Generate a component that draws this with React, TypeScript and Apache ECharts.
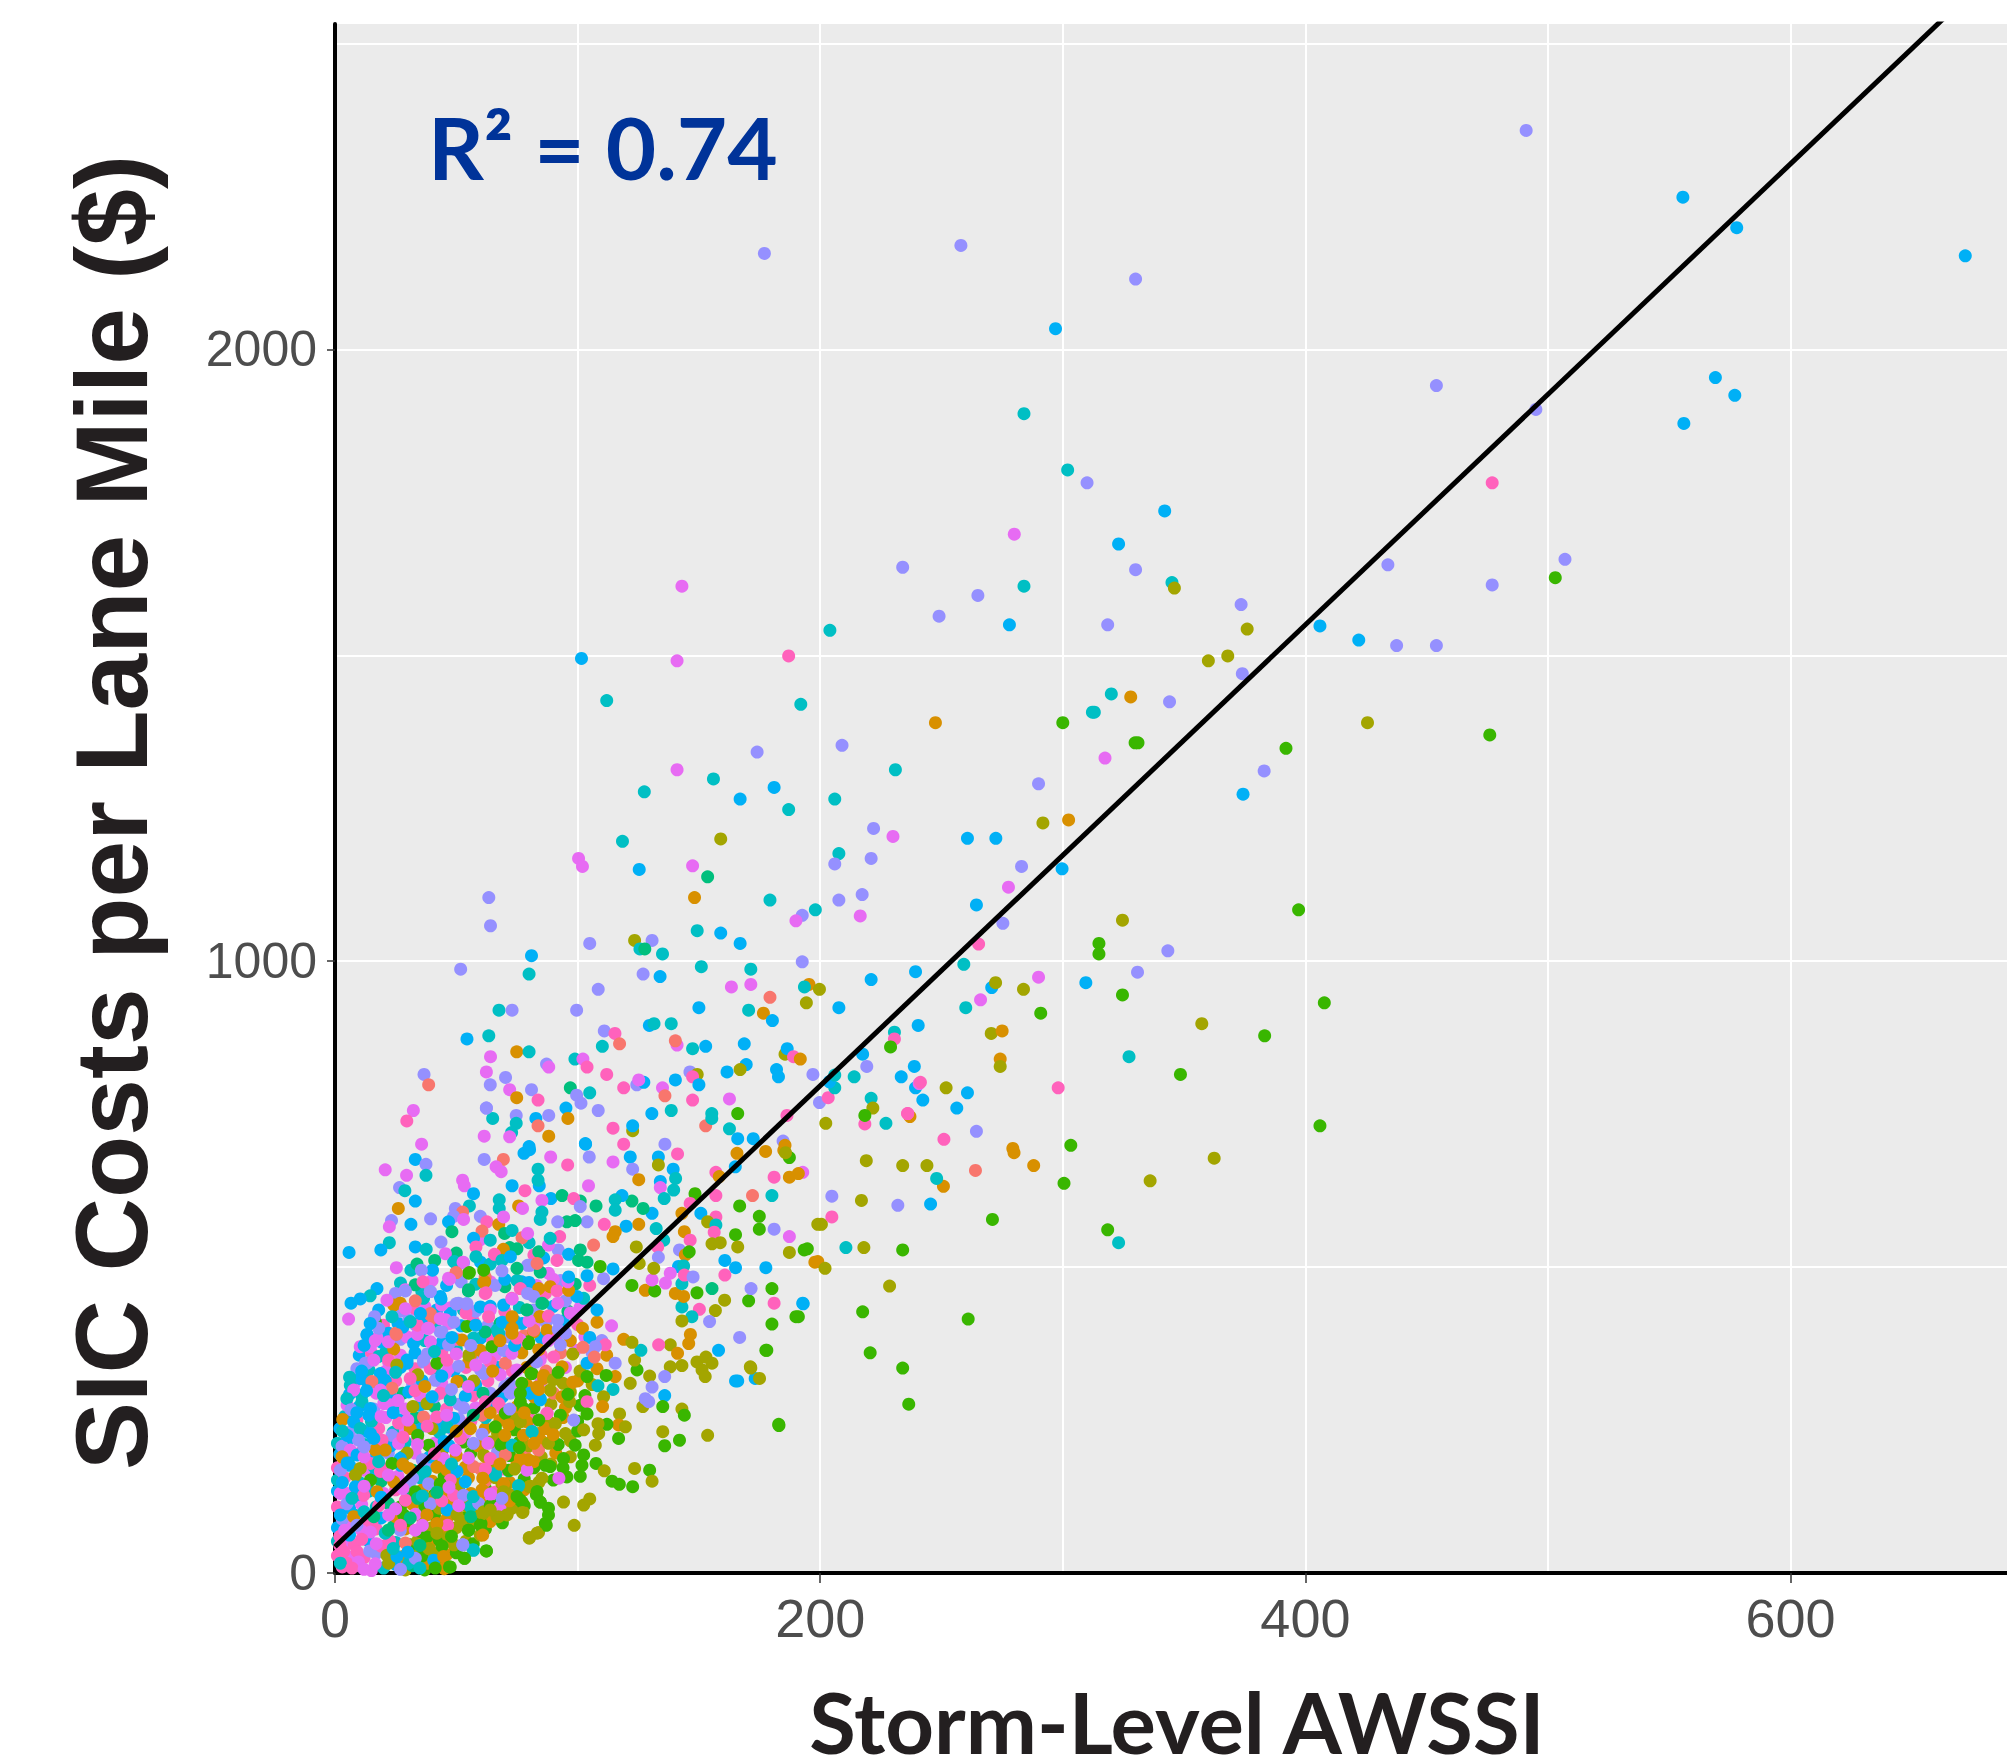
import React, { useEffect, useRef } from "react";
import * as echarts from "echarts";

// Colour groups of the storms (index used as third column of each row)
const groupColors = ["#F8766D", "#D89000", "#A3A500", "#39B600", "#00BF7D", "#00BFC4", "#00B0F6", "#9590FF", "#E76BF3", "#FF62BC"];

const xTicks = [0, 200, 400, 600];
const yTicks = [0, 1000, 2000];
const fitLine = [[0, 43], [675, 2586]];

// rows: [AWSSI, cost, group]
const fillStorms = [
[3,10,9],[10,12,9],[15,4,8],[20,8,5],[25,14,6],[29,5,2],[32,12,4],[37,5,3],[38,16,1],[43,15,2],[45,7,1],
[1,28,9],[6,26,8],[12,25,9],[17,32,7],[23,30,4],[28,27,1],[33,33,2],[36,28,3],[41,32,2],[46,30,1],[50,33,3],
[1,52,5],[5,48,8],[8,46,9],[14,52,6],[19,44,9],[25,50,5],[31,46,3],[34,52,2],[39,48,1],[43,54,3],[49,46,2],[54,52,2],[57,48,3],
[1,74,6],[6,78,8],[11,70,8],[17,72,9],[24,76,4],[29,72,1],[35,68,3],[40,74,2],[45,68,1],[50,74,2],[56,80,2],[62,72,3],
[3,88,7],[8,95,5],[13,88,9],[19,90,6],[25,92,1],[30,86,3],[36,90,2],[41,94,3],[46,88,1],[53,90,3],[58,94,2],[64,84,1],[69,82,3],
[1,108,9],[6,106,6],[11,112,8],[17,108,5],[22,114,4],[27,108,3],[32,112,1],[37,108,3],[43,106,2],[48,112,1],[54,110,2],[62,114,1],[67,112,3],[73,106,2],[78,110,3],
[1,134,6],[5,130,8],[9,128,6],[14,134,5],[20,130,8],[25,136,9],[30,130,4],[36,136,1],[41,128,3],[46,132,1],[51,136,2],[56,130,1],[62,138,3],[66,132,9],[72,128,2],[78,136,1],[83,128,3],
[1,152,5],[4,156,9],[10,148,5],[15,156,6],[19,150,4],[26,158,8],[31,150,7],[35,156,5],[40,150,1],[45,158,3],[50,148,2],[55,156,1],[62,150,0],[66,156,2],[72,148,1],[78,154,3],[84,148,2],[90,152,3],
[1,172,9],[6,176,6],[12,168,8],[16,174,5],[21,170,9],[27,176,6],[32,168,4],[38,174,7],[43,180,2],[48,172,3],[55,176,1],[60,170,0],[65,176,2],[69,170,9],[75,178,1],[82,172,3],[89,178,2],[94,172,3],
[2,194,6],[6,190,5],[11,198,9],[17,192,6],[22,196,7],[28,190,5],[33,196,8],[39,190,6],[44,198,2],[50,192,1],[56,196,3],[62,190,1],[67,198,7],[72,192,3],[78,196,0],[85,190,2],[91,196,1],[97,190,2],
[1,212,5],[5,216,6],[12,210,5],[17,216,8],[23,208,6],[29,214,5],[34,220,9],[41,212,8],[47,208,6],[53,214,3],[59,208,1],[64,214,2],[70,208,9],[76,214,3],[80,208,2],[85,216,1],[92,210,3],[97,216,2],
[2,236,6],[6,230,7],[12,232,6],[18,236,9],[24,230,5],[29,234,8],[35,238,6],[43,230,5],[48,236,7],[54,230,8],[62,236,1],[67,228,2],[74,234,3],[84,228,1],[89,234,9],[95,228,2],[100,232,3],
[4,256,5],[9,250,9],[15,248,5],[21,254,8],[27,250,6],[33,254,4],[39,248,8],[44,246,6],[51,252,7],[56,248,9],[62,254,5],[68,250,1],[74,256,2],[81,250,9],[88,248,2],[94,254,1],[100,248,3],
[5,274,8],[10,272,6],[16,268,7],[24,272,5],[29,268,8],[35,274,6],[41,272,4],[46,268,9],[51,276,7],[58,270,8],[64,274,6],[69,268,9],[75,272,1],[82,270,3],[89,276,2],[95,270,1],[101,274,3],
[6,292,6],[11,290,5],[17,294,8],[23,288,6],[28,294,4],[35,290,8],[41,288,7],[47,294,5],[57,290,9],[64,294,7],[69,288,6],[75,296,8],[82,288,1],[90,294,0],[97,296,2],[103,290,3],
[8,310,8],[13,314,6],[18,310,5],[25,314,9],[32,308,7],[36,314,6],[44,310,8],[52,314,4],[58,308,6],[63,314,9],[72,310,7],[79,308,1],[85,314,8],[94,310,2],[100,314,1],[106,308,2],
[9,334,7],[14,332,5],[21,330,8],[27,336,6],[33,334,9],[41,332,5],[49,330,6],[54,336,9],[60,332,7],[67,336,6],[73,330,9],[79,336,1],[87,330,0],[95,336,8],[101,330,2],[108,334,1],
[10,356,6],[15,360,9],[21,362,5],[27,356,8],[33,360,6],[38,358,7],[44,362,9],[50,366,5],[58,360,7],[66,356,8],[71,362,6],[77,360,1],[85,356,9],[93,360,0],[99,364,8],[106,360,7],[112,356,1],
[19,378,6],[27,382,7],[33,384,8],[37,380,5],[44,376,6],[50,382,9],[55,378,8],[60,384,6],[65,380,9],[71,386,7],[78,388,0],[85,384,6],[91,386,9],[97,380,1],[103,386,8],[110,380,7],
[20,405,9],[26,408,6],[33,406,7],[41,404,5],[47,408,8],[52,404,6],[57,412,9],[63,404,7],[68,408,4],[74,412,6],[82,404,8],[87,410,7],[94,412,6],[100,406,9],[108,410,1],[114,404,8],
[18,430,6],[27,428,7],[33,432,9],[37,436,8],[42,430,6],[48,434,8],[53,430,5],[58,428,7],[64,436,6],[70,428,9],[76,434,5],[82,430,7],[90,436,6],[96,428,4],[101,434,8],[108,430,6],
[27,474,5],[40,478,8],[46,470,6],[52,476,7],[58,472,5],[64,476,8],[70,468,4],[77,476,6],[83,470,8],[93,478,7],[99,472,4],[105,470,9],
[60,508,6],[64,505,5],[72,532,4],[82,520,9],[86,515,6],[92,528,7],[60,545,8],[80,540,5],[84,525,4],
];

const coreStorms = [
[13.2,343,7],[22.1,345,8],[29.7,343,6],[36.5,345,7],[18.7,326,6],[34.1,324,2],[39.3,334,9],[45.5,326,8],[41.3,315,7],[50.3,313,1],[57.2,314,2],[46.8,334,8],[55.1,345,1],[61.3,326,7],[70.2,343,0],[68.1,324,8],[81.2,326,3],
[10.4,318,6],[20.7,315,6],[15.2,313,0],[6.3,307,5],[7.7,299,8],[30.4,296,6],[23.5,302,0],[18.7,299,8],[4.9,285,5],[43.4,294,9],[53.7,289,6],[61,294,4],[47.5,283,5],[37.9,277,2],[22.8,275,8],[20.1,277,8],[11.1,280,5],[32.1,272,2],[6.6,267,7],[14.6,269,6],[72.3,294,7],[80.2,294,6],[67.4,277,9],[76.4,280,3],[84.6,285,6],[86,318,1],
[3.2,251,1],[13.9,258,6],[7.7,247,6],[26.2,245,9],[36.5,255,0],[42,255,9],[48.9,253,6],[70.2,261,3],[60.6,258,0],[66.1,239,3],[71.6,242,1],[79.1,247,1],[87.4,261,8],[81.2,231,6],[86.7,236,1],[10.4,236,5],[14.6,228,6],[40,236,2],[46.2,239,5],[31,236,1],[23.5,225,7],[34.1,225,3],[55.8,236,1],[60.6,227,7],[77.7,225,1],
[2.9,207,7],[9.7,217,7],[19.4,217,9],[26.2,212,8],[38.6,209,3],[51.7,220,9],[73,209,5],[68.4,209,3],[49.6,201,8],[29.7,196,2],[6.3,201,8],[9.1,193,6],[20.7,201,1],[16.6,201,1],[61.3,193,2],[83.9,201,0],[70.2,193,0],[64,187,9],[77.1,185,1],[81.9,182,1],[44.8,187,8],[26.9,187,6],[2.9,190,1],[14.6,179,9],[23.5,179,3],
[2.2,168,7],[10.4,171,2],[86.7,176,3],[79.1,168,8],[71.6,167,4],[53.7,173,1],[57.1,174,0],[42,173,1],[46.2,168,1],[18.7,166,9],[66.1,163,5],[50.3,166,6],[8.4,160,2],[30.4,171,1],[37.2,166,5],
[14.6,152,3],[47.5,152,9],[53.7,149,6],[61.3,155,1],[60.6,136,1],[68.8,146,2],[24.2,149,1],[38.6,146,7],[43.4,146,3],[8.4,141,6],[75.7,142,5],[80.5,142,2],[85.3,155,2],[83.2,133,3],[11.8,127,9],[2.2,130,8],[17.3,133,1],[33.1,133,3],[48.9,127,9],[53,127,7],[69.5,133,2],[64,127,8],
[55.8,108,5],[29,119,9],[34.1,122,4],[40.9,124,2],[39.3,113,7],[4.9,113,7],[2.2,95,6],[7.7,92,1],[22.1,95,8],[33.1,96,8],[76.4,119,3],[46.2,103,6],[59.2,114,7],[84.6,116,3],[77.5,100,2],[70.9,97,2],[66.8,92,2],[61.3,100,2],[28.3,95,3],[37.9,95,1],[50.3,95,2],
[15.2,81,9],[14.6,67,8],[26.9,70,7],[33.1,70,8],[46.4,78,9],[42,81,1],[55.1,70,3],[59.9,62,2],[60.2,81,3],[86.7,81,3],[80.1,58,2],[83.9,66,2],
[22.5,53,9],[29,49,0],[20.7,65,5],[37.9,59,3],[46.8,59,2],[52.7,46,7],[56.9,38,5],[62.4,36,3],[53.4,24,3],[44.8,27,1],[44.1,44,3],[38.6,40,2],[3.6,35,9],[9.1,35,9],[14.3,36,7],[4.9,16,9],[9.7,18,8],[16.6,15,8],[21.4,29,2],[22.1,16,2],[25.5,27,6],[30.4,16,5],[33.1,24,7],[40.7,21,6],[47.5,10,3],[41.3,8,3],[2.2,16,5],[7,8,9],[12,6,8],[27,6,7],[35,8,5],
[24.9,457,7],[29,463,8],[35.8,460,5],[36.5,449,5],[24.2,438,1],[26.9,441,1],[33.1,445,0],[39.3,460,7],[43.4,452,6],[50.9,441,7],[54.4,440,7],[59.9,435,6],[61.9,457,9],[61.3,475,1],[61.9,484,0],[55.1,490,3],[55.1,463,4],[46.8,482,8],[50,491,0],[53,507,7],[48.9,509,5],[69.5,438,6],[72.9,449,9],[80.5,503,7],[76.4,465,8],[81.2,460,7],[79.1,430,4],[72.9,414,1],[72.3,403,1],[77.1,408,6],[85.6,441,4],[84.4,419,1],[86.7,457,9],
[23.5,419,5],[30.4,414,7],[39.3,424,0],[39.3,414,0],[35.8,416,6],[47.5,424,6],[45.5,414,8],[54.4,403,3],[66.8,397,5],[15.2,408,6],[13.2,389,6],[16.6,411,3],[22.1,392,6],[25.1,392,0],[29.7,386,8],[43.4,394,7],[38.6,400,8],[57.1,384,5],[61.9,394,4],[59.9,364,1],[55.8,356,1],[55.1,356,2],[64.7,370,3],[69.5,364,7],[72.9,359,8],[81.9,394,1],[79.8,378,3],[10.4,370,8],[14.6,370,8],[17.3,384,8],[24.2,366,1],[32.4,375,6],[39.3,378,8],[46.8,373,7],[18,354,5],[12.5,343,7],[22.1,348,9],[29.7,348,6],[36.5,348,7],[42,343,3],[46.2,348,9],[64,345,9],[25.5,340,2],[52.3,381,1],
[84.6,419,1],[81.9,397,0],[87.4,397,1],[67.5,392,5],[76.4,381,8],[79.8,375,3],[90.1,353,9],[93.6,337,1],[92.9,373,7],[84.6,348,8],[80.8,326,3],[86,323,1],[80.5,294,6],[83.2,304,1],[76.4,294,3],[88.7,299,2],[93.6,288,1],[96.7,280,2],[84.6,283,6],[77.7,269,3],[87.4,261,9],[98.4,250,7],[92.9,258,3],[86.7,236,1],[76.4,247,2],[81.2,231,5],[90.8,244,2],[79.8,185,1],[76.4,187,1],[88,212,2],[68.8,212,3],[73,209,5],[66.1,160,5],[71.6,168,3],[70.2,144,2],
];

const shoulderStorms = [
[33.1,676,6],[37.5,668,7],[20.7,659,8],[37.5,650,5],[29.5,650,8],[77.9,686,6],[80.2,692,6],[61.5,676,7],[69.4,676,0],[66.4,664,8],[68.5,656,8],[88.9,680,8],[95.9,667,9],[83.7,660,5],[103.2,702,6],[104.8,680,7],[114.6,672,8],[121.7,680,6],[122.7,660,7],[125.2,643,1],[133.3,680,6],[133.3,667,2],[141.2,685,9],[139.4,660,6],[140.4,645,5],[134.1,640,6],[134.1,630,8],[139.6,626,5],[135.7,612,5],[148.4,620,3],[157,655,9],[158.4,648,1],[165,664,6],[165.7,686,1],[177.5,689,1],[185,691,1],[187.3,679,3],[181,647,9],[187.3,647,1],[192.8,655,8],
[172.1,617,0],[180.1,617,5],[157,617,9],[146.4,604,9],[150.8,588,6],[143,588,1],[166.8,600,3],[174.9,583,3],[174.9,562,3],[181,562,7],[187.3,550,8],[199,570,2],[193.4,528,3],[187.3,524,2],[197.8,508,1],[157,582,9],[153.6,574,2],[157,569,5],[156.3,557,9],[165.1,553,3],[166,533,2],[155.4,538,2],[158.8,540,2],[144,558,1],[146.4,544,9],[135.5,544,5],[133,533,9],[133.3,516,7],[142,528,7],[144.4,520,1],[146,525,3],[160.7,511,6],[165.1,499,6],[177.6,499,6],[160.7,487,9],[124.2,533,2],[125.4,506,2],[125.2,570,1],[120,567,6],[115.5,558,1],[114.6,550,1],[111,570,9],[132.4,563,5],[130.7,588,6],[127,596,4],[122.4,608,4],[118.3,617,6],[115.5,610,5],[115.5,593,5],[107.6,600,4],[101.1,608,4],[89,612,6],[93.6,617,4],[98.4,612,9],[101.1,599,7],[75.7,600,1],[77.3,596,8],[67.7,610,5],[67.7,596,5],[73,633,6],[78.3,625,9],[84.2,633,6],[83.7,642,5],[85.3,609,8],[85.3,590,5],[84.6,578,5],[104.5,633,8],[52.6,642,8],[53.3,633,8],[57.1,620,6],[26.6,630,7],[28.8,625,5],[33.1,608,6],[26.1,596,1],[23.3,576,7],[22.4,566,8],[31.3,570,6],[39.4,579,7],[49.6,596,7],[55.4,600,5],[52.6,590,0],[48.9,583,7],[53,578,8],[46.8,574,6],[48.2,558,4],
[33.1,533,6],[22.4,540,5],[18.9,528,6],[5.8,524,6],[37.6,529,5],[43.7,541,7],[50,523,4],[45.5,522,8],[25.3,499,8],[31.3,495,5],[33.8,505,4],[41.1,511,4],[40.2,495,6],[35.6,495,7],[49.2,509,5],[52.8,508,8],[49.9,491,0],[47.2,480,8],[55.4,491,3],
[59.9,583,7],[62.6,574,9],[60.6,559,0],[67.5,570,1],[69.5,582,8],[64,544,5],[57.1,547,6],[58.1,533,9],[58.1,517,5],[69.9,555,4],[73,560,5],[77.1,548,0],[79.4,555,8],[75,530,4],[69.4,529,1],[65.7,521,9],[68.8,511,5],[72.3,517,6],[79.4,503,7],[68.8,494,7],[75,498,4],[61.7,476,1],[61.3,495,3],[62.2,458,9],[55,461,4],[33.1,471,4],[36.3,476,9],[29,461,7],[17.3,465,6],[14.5,453,5],[10.4,448,6],[6.6,441,6],[39.3,460,7],[43.7,448,6],[50,440,7],[54.1,440,7],[63.3,419,9],[21.4,446,8],[5.6,415,8],[16.3,419,7],[14.5,408,6],[13.2,390,6],[16.6,380,8],[25.3,390,0],[31,411,5],[39.3,422,0],[43.4,416,8],[38.2,400,8],[35.2,424,6],[44.1,394,7],[48.2,385,6],
[73,419,1],[73,400,1],[73,392,1],[79.1,430,4],[73,448,8],[76.4,465,9],[79.4,457,7],[81.9,452,7],[88.7,468,1],[91.5,461,9],[85.3,441,4],[91.8,441,8],[91.8,413,7],[102.5,449,5],[99.7,452,6],[96.3,462,1],[96,476,8],[88,490,8],[91.5,511,9],[84.6,492,4],[83.3,506,0],[96.3,521,6],[88,536,8],[92.6,550,9],[96.3,484,6],[100.4,511,4],[103.9,574,7],[99,576,4],[95.6,574,4],[91.8,574,7],[88.7,547,5],[106.6,536,0],[101.1,528,4],[103.9,508,4],[103.9,486,6],[110.7,481,7],[109.3,501,3],[114.6,497,6],[122.4,470,3],[127.9,462,1],[131.8,461,3],[140.3,457,1],[143,435,5],[143.7,452,1],[143,473,5],[130.7,479,8],[131.4,498,2],[141.6,501,6],[143.7,502,5],[138.2,490,8],[136.2,474,8],[144,487,9],[147.6,484,7],[149.2,458,3],[155.4,465,4],[170.5,445,3],[171.5,465,7],[180.1,465,3],[181,441,9],[192.8,441,6],[190,419,3],[180.1,407,3],[160.6,446,2],[156.8,429,2],[150.2,431,9],[154.4,411,7],[147.1,419,5],[143,412,2],[146.5,390,1],[145.8,375,1],[166.8,385,7],[177.6,364,3],[158.1,364,6],[138.2,373,2],[141.2,359,1],[138.2,337,2],[143,339,2],[149.2,345,2],[152.9,353,2],[155.4,343,2],[151.3,332,2],[152.6,321,2],[171.2,337,2],[165.1,314,6],[173.2,318,6],[182.9,243,3],[143,268,2],[144,258,3],[135.1,231,2],[135.9,208,3],[142,217,3],[153.6,225,2],[135.9,321,7],[135.9,290,6],[135.1,272,3],[126.9,272,2],[129.7,322,2],[130.7,304,7],[127.9,285,7],[129.3,280,7],
[115.5,343,7],[124.5,332,3],[123.5,348,2],[126.1,364,5],[133.4,373,9],[119,382,1],[122.4,377,2],[111.4,373,9],[107.3,370,7],[102.2,369,0],[103.9,343,6],[106.9,353,0],[103.9,321,3],[115.5,321,1],[111.8,323,3],[121.7,310,2],[108.4,306,5],[114.6,300,5],[110.7,288,2],[110.3,272,1],[103.9,280,9],[103.9,260,3],[117.3,260,2],[116.9,242,1],[119.7,239,2],[112.1,243,3],[108.4,244,2],[108.7,228,2],[107.3,209,2],[116.9,220,3],[102.5,234,2],[99,209,3],[102.5,193,3],[94.2,187,3],[101.8,176,3],[107.6,179,3],[111,167,2],[114.2,150,3],[117.2,145,3],[122.7,141,3],[123.5,171,2],[129.7,168,3],[130.7,150,2],[101.1,158,3],[95.6,157,3],[92.3,155,8],[88.7,174,3],[80.1,141,2],[83.3,133,3],[84.6,116,3],[88,106,3],[88,95,3],[87.1,78,3],[94.2,116,2],[102.5,111,2],[105,121,2],[98.6,78,2],[83.3,65,2],[80.1,57,2],[75.7,143,5],[75,125,3],[77.1,116,3],[77.3,99,2],[70.9,95,2],[67.4,92,2],[64,103,2],[60.9,97,2],[69.5,146,1],[69.5,133,2],[60.9,155,1],[61.3,133,1],[68.8,122,7],[64,129,8],[59.9,78,3],[55,70,3],[62.4,36,3],[57.1,37,5],[52.7,46,7],[53.4,24,3],[44.8,27,1],[47.2,10,3],[60.9,62,1],
];

const outerStorms = [
[32.3,756,8],[29.6,739,9],[62.4,760,7],[65,743,5],[74.7,748,7],[74.7,735,5],[72.8,720,5],[82.8,743,6],[88.1,748,7],[83.7,731,0],[88.1,714,1],[95.2,760,6],[96,743,1],[108.5,756,7],[130.6,751,6],[138.6,756,5],[114.6,727,9],[122.7,723,2],[122.7,731,6],[152.8,731,0],[155.3,751,5],[155.3,743,5],[166,751,3],[162.6,726,5],[166,710,6],[172.4,710,6],[61.5,714,8],[72,713,8],[35.7,701,8],[80,697,6],[103.3,701,6],[119,701,9],[136,701,7],[184.7,706,7],[185.5,699,1],[202.3,735,2],[186.3,748,9],[199.7,769,7],[203.3,777,9],[206,793,5],[203.8,803,6],[206,814,5],[217.5,848,6],[230.6,884,5],[230.6,873,9],[229,860,3],[240.4,895,6],[239.3,793,6],[240.8,800,8],
[112,1426,5],[100.4,1168,8],[102,1155,8],[125.4,1150,6],[147.4,1156,8],[153.6,1138,4],[63.4,1104,7],[64.1,1058,7],[148.2,1104,1],[179.3,1100,5],[207.7,1100,7],[217.3,1109,7],[216.5,1074,8],[198,1084,5],[192.6,1075,7],[190,1066,8],[149.3,1050,5],[159,1046,6],[167,1029,6],[105,1029,7],[123.5,1034,2],[130.7,1034,7],[125.7,1020,5],[127.7,1020,4],[135,1012,5],[81,1009,6],[192.6,999,7],[151,991,5],[171.4,987,5],[51.8,987,7],[80,979,5],[127,979,7],[134,975,6],[221,970,6],[171.4,962,8],[163.4,958,8],[108.5,954,7],[195.4,962,1],[193.5,958,5],[199.7,954,2],[179.3,941,0],[194.3,932,2],[207.7,924,6],[150,924,6],[170.5,920,5],[99.6,920,7],[67.6,920,5],[73,920,7],[176.6,915,1],[180.3,903,6],[129.6,895,6],[131.5,898,5],[138.6,898,5],[111,886,7],[115.4,882,9],[117.3,865,0],[141,863,8],[140.3,870,0],[54.4,873,6],[63.4,878,5],[110.2,861,5],[147.4,857,5],[152.8,861,6],[168.7,865,6],[74.9,852,1],[80,852,5],[64.1,844,8],
[185.5,848,2],[186.4,857,6],[189,844,9],[191.8,840,1],[169.5,831,6],[167,823,2],[161.6,819,6],[146.3,819,7],[149.3,815,2],[147.4,811,9],[150,798,6],[140.3,806,6],[182,823,6],[182.8,811,6],[197,815,7],[219.2,828,7],[214,811,5],[233.4,811,6],[238.8,828,6],[239.3,983,6],[62.4,819,8],[70.3,810,7],[64,798,7],[36.7,815,7],[38.6,798,0],[87.2,832,7],[88.1,827,8],[98.9,840,5],[102.2,840,8],[103.9,827,9],[112,815,9],[119,793,9],[124.4,798,7],[127.3,802,6],[125.2,806,8],[135,793,8],[136,780,0],[147.4,773,9],[162.6,775,8],[221,776,5],[221.7,760,2],[218.4,734,9],[218.4,748,3],[227.1,735,5],[237,746,1],[236,751,9],[72,790,8],[81,790,7],[74.9,777,1],[83.7,773,9],[97,793,4],[99.6,781,7],[101.4,768,7],[105,785,5],[62.4,760,7],
];

const outlierStorms = [
[247.5,1390,1],[300,1390,3],[312.2,1407,5],[329.8,1357,3],[392,1348,3],[425.6,1390,2],[317.4,1332,8],[290,1290,7],[383,1311,7],[374.3,1273,6],[260.7,1201,6],[272.4,1201,6],[291.8,1226,2],[302.4,1231,1],[283,1155,7],[299.7,1151,6],[277.6,1121,8],[264.4,1092,6],[275.3,1062,7],[265.3,1028,9],[397.2,1084,3],[324.6,1067,2],[314.9,1029,3],[314.9,1012,3],[343.3,1017,7],[259.2,995,5],[330.8,982,7],[290,974,8],[270.7,957,6],[272.3,965,2],[283.8,954,2],[309.5,965,6],[324.6,945,3],[290.9,915,3],[266.1,937,8],[260,924,5],[270.5,882,2],[275,886,1],[357.3,898,2],[407.8,932,3],[383.2,878,3],[274.2,840,1],[274.2,828,2],[327.3,844,5],[348.5,815,3],[241.3,802,9],[242.3,773,6],[251.9,793,2],[260.7,785,6],[298.1,793,9],[256.3,760,6],[236.1,751,9],[264.4,722,7],[251,709,9],[406,731,3],[279.4,694,1],[303.3,699,3],[279.9,687,1],[288,666,1],[362.4,678,2],[336,641,2],[300.5,637,3],[264,658,0],[250.8,632,1],[248,645,5],[234,666,2],[244,666,2],[219,674,2],[232,601,7],[245.5,603,6],[271,578,3],[318.5,561,3],[323,540,5],[217,609,2],[200.5,570,2],[199,509,1],[202,498,2],[204.8,582,9],[204.8,616,7],[210.6,532,5],[218,532,2],[234,528,3],[228.6,469,2],[217.5,427,3],[261,415,3],[220.6,360,3],[234,335,3],[236.5,276,3],[193,440,6],[191,419,3],[178,364,3],[171.4,335,2],[175,318,2],[166,314,6],[183,241,3],[194.7,530,3],[191,653,1],[185.7,687,2],
[491,2358,7],[555.6,2249,6],[577.8,2199,6],[672,2153,6],[177,2157,7],[258,2170,7],[330,2115,7],[297,2034,6],[284,1895,5],[454,1941,7],[495,1902,7],[569,1954,6],[577,1925,6],[556,1879,6],[302,1803,5],[310,1782,7],[477,1782,9],[342,1736,6],[323,1682,6],[330,1640,7],[280,1698,8],[234,1644,7],[434,1648,7],[507,1657,7],[503,1627,3],[345,1619,5],[346,1610,2],[284,1613,5],[143,1613,8],[265,1598,7],[249,1564,7],[373.5,1583,7],[477,1615,7],[318.5,1550,7],[278,1550,6],[406,1548,6],[204,1541,5],[376,1543,2],[422,1525,6],[437.6,1516,7],[454,1516,7],[101.6,1495,6],[141,1491,8],[187,1499,9],[360,1491,2],[368,1499,2],[374,1470,7],[192,1420,5],[320,1437,5],[328,1432,1],[313,1407,5],[344,1424,7],[476,1370,3],[331,1357,3],[174,1342,7],[209,1353,7],[141,1313,8],[231,1313,5],[156,1298,5],[181,1284,6],[167,1265,6],[127.5,1277,5],[206,1265,5],[187,1248,5],[222,1217,7],[230,1204,8],[159,1200,2],[118.5,1196,5],[207.7,1176,5],[206,1159,7],[221,1168,7],
];

// Extra storms read from the densest part of the cloud, near the origin
const packedStorms = [
[2,60,9],[6,62,6],[11,55,9],[17,48,8],[24,40,5],[30,34,6],[35,45,4],[12,100,5],[18,110,9],[25,105,8],[31,90,4],[36,78,8],[42,65,2],[48,60,3],[52,85,2],[16,92,4],[9,78,7],[4,70,8],[2,45,9],[27,78,9],[22,70,4],[19,124,6],[28,138,8],[36,126,5],[44,118,9],[51,110,8],[56,92,4],[12,142,8],[7,122,5],[3,148,6],[22,160,8],[32,155,7],[42,132,4],[47,140,8],[57,125,5],[64,110,3],[68,108,8],[72,118,1],
[5,180,6],[12,190,8],[18,182,5],[28,178,1],[36,185,7],[41,195,9],[48,178,5],[55,188,8],[62,170,9],[68,178,1],[74,170,2],[5,225,6],[12,206,7],[16,220,6],[28,222,9],[34,210,8],[45,215,6],[50,232,1],[57,212,7],[63,212,8],[70,225,1],[76,205,3],[82,212,1],[3,232,5],[9,262,6],[19,256,8],[24,262,6],[30,250,8],[38,240,9],[46,258,8],[53,270,7],[57,258,4],[64,262,1],[72,268,7],[78,262,1],[84,250,3],[90,226,1],
[6,320,5],[13,298,6],[20,290,5],[26,282,8],[33,298,9],[40,288,6],[48,300,7],[55,305,8],[62,280,9],[70,305,7],[77,310,3],[84,300,1],[90,316,2],[96,292,3],[11,330,6],[16,348,8],[25,328,5],[31,318,9],[37,305,1],[44,322,6],[51,338,7],[58,340,8],[65,330,1],[75,332,8],[83,345,7],[92,328,3],[98,312,1],
[12,372,6],[18,400,7],[22,378,8],[28,402,6],[34,390,8],[41,362,5],[50,358,8],[56,372,7],[62,352,8],[68,380,1],[74,372,6],[84,365,1],[88,380,8],[95,392,7],[98,358,2],[29,432,8],[34,405,9],[44,438,8],[49,410,7],[54,425,9],[58,405,6],[64,430,8],[69,410,6],[75,384,9],[80,412,8],[88,420,9],[92,398,7],[97,425,8],[102,400,1],[105,385,6],[66,470,7],[70,480,6],[75,478,5],[80,475,6],[84,465,1],[90,480,8],[95,445,7],
];

const allStorms = [...fillStorms, ...coreStorms, ...packedStorms, ...shoulderStorms, ...outerStorms, ...outlierStorms];

const TICK_GREY = "#4d4d4d";
const GRID_WHITE = "#ffffff";
const plain = (v: number) => String(v);

export default function App() {
  const ref = useRef<HTMLDivElement>(null);
  useEffect(() => {
    document.body.style.margin = "0";
    const chart = echarts.init(ref.current!, null, { renderer: "svg" });
    chart.setOption({
      animation: false,
      backgroundColor: "#ffffff",
      grid: { left: 335, top: 24, width: 1672, height: 1549, show: true, backgroundColor: "#ebebeb", borderWidth: 0, outerBoundsMode: "none", containLabel: false },
      xAxis: {
        type: "value", min: 0, max: 689.2, interval: 200,
        name: "Storm-Level AWSSI", nameLocation: "middle", nameGap: 105,
        nameTextStyle: { fontFamily: "Lato", fontWeight: "bold", fontSize: 85, color: "#231f20", padding: [0, 0, 0, 12] },
        axisLine: { show: true, onZero: false, lineStyle: { color: "#000", width: 4 } },
        axisTick: { show: true, length: 10, customValues: xTicks, lineStyle: { color: "#333", width: 1.5 } },
        axisLabel: { customValues: xTicks, formatter: plain, fontFamily: "Liberation Sans", fontSize: 54, color: TICK_GREY, margin: 18 },
        splitLine: { show: true, lineStyle: { color: GRID_WHITE, width: 2 } },
        minorTick: { show: false, splitNumber: 2 },
        minorSplitLine: { show: true, lineStyle: { color: GRID_WHITE, width: 2 } },
      },
      yAxis: {
        type: "value", min: 0, max: 2532, interval: 1000,
        name: "SIC Costs per Lane Mile ($)", nameLocation: "middle", nameGap: 172, nameRotate: 90,
        nameTextStyle: { fontFamily: "Liberation Sans", fontWeight: "bold", fontSize: 102, color: "#231f20", padding: [0, 28, 0, 0] },
        axisLine: { show: true, onZero: false, lineStyle: { color: "#000", width: 4 } },
        axisTick: { show: true, length: 8, customValues: yTicks, lineStyle: { color: "#333", width: 1.5 } },
        axisLabel: { customValues: yTicks, formatter: plain, fontFamily: "Liberation Sans", fontSize: 50, color: TICK_GREY, margin: 18, padding: [14, 0, 0, 0] },
        splitLine: { show: true, lineStyle: { color: GRID_WHITE, width: 2 } },
        minorTick: { show: false, splitNumber: 2 },
        minorSplitLine: { show: true, lineStyle: { color: GRID_WHITE, width: 2 } },
      },
      graphic: [{
        type: "text", x: 428, y: 146, z: 20,
        style: { text: "R² = 0.74", fontFamily: "Lato", fontWeight: "bold", fontSize: 87, fill: "#003399", textAlign: "left", textVerticalAlign: "middle", verticalAlign: "middle" },
      }],
      series: [
        {
          type: "scatter", data: allStorms, symbol: "circle", symbolSize: 13, clip: true, silent: true,
          encode: { x: 0, y: 1 },
          itemStyle: { opacity: 1, color: (p: any) => groupColors[p.value[2]] },
          z: 2,
        },
        {
          type: "line", data: fitLine, showSymbol: false, symbol: "none", clip: true, silent: true,
          lineStyle: { color: "#000", width: 5 }, z: 3,
        },
      ],
    });
    return () => chart.dispose();
  }, []);
  return <div ref={ref} style={{ width: 2007, height: 1764 }} />;
}
